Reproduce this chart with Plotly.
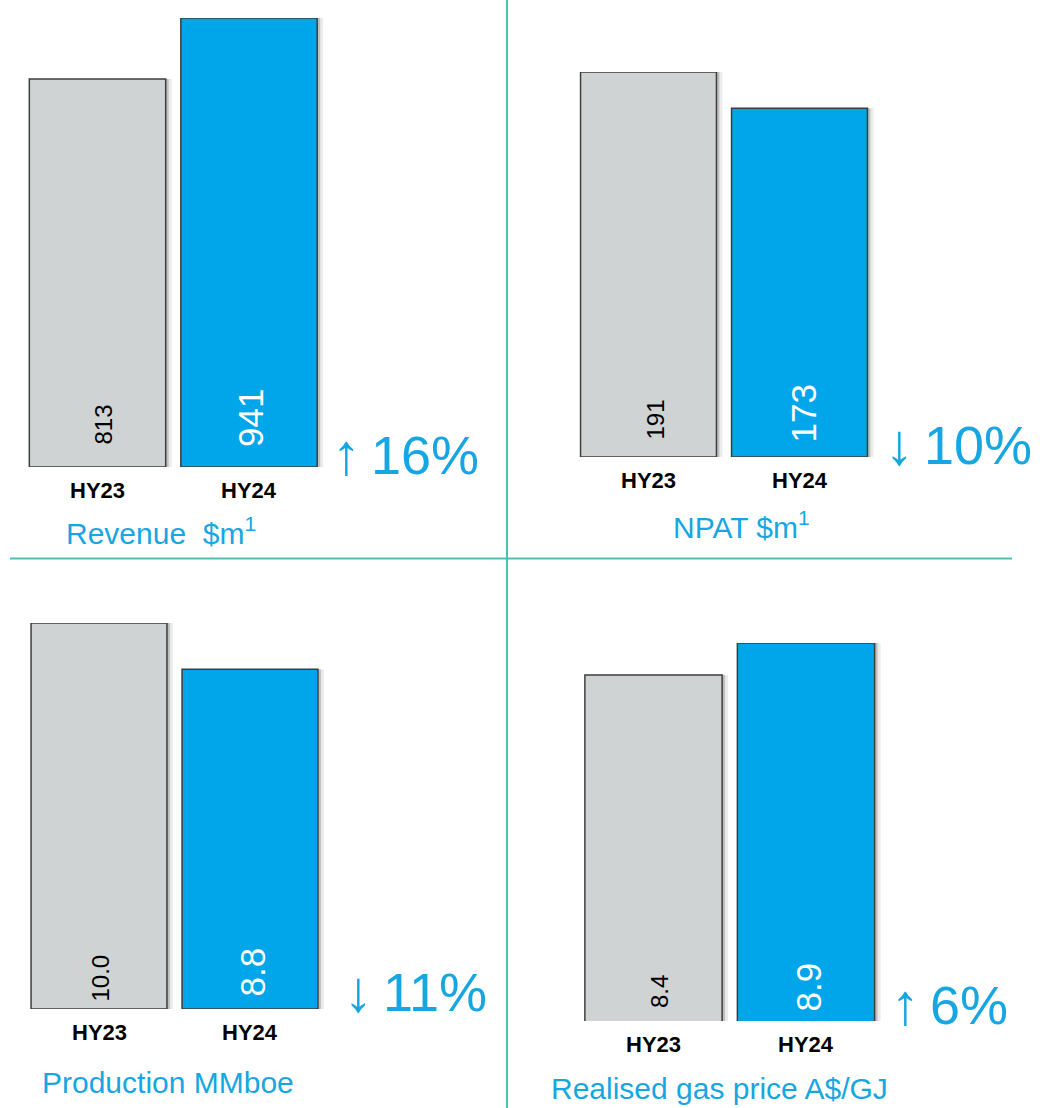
import plotly.graph_objects as go

W, H = 1054, 1108

# ---------------- data ----------------
categories = ["HY23", "HY24"]
revenue = [813, 941]
npat = [191, 173]
production = [10.0, 8.8]
gas_price = [8.4, 8.9]
value_labels = [["813", "941"], ["191", "173"], ["10.0", "8.8"], ["8.4", "8.9"]]
titles = ["Revenue\u00a0 $m<sup>1</sup>", "NPAT $m<sup>1</sup>",
          "Production MMboe", "Realised gas price A$/GJ"]
change_dir = ["up", "down", "down", "up"]
change_pct = [16, 10, 11, 6]
series = [revenue, npat, production, gas_price]

# ---------------- styles / layout ----------------
FONT = "Liberation Sans, Arial, sans-serif"
GREY = "#D0D3D4"
BLUE = "#00A6E9"
TEXT_BLUE = "#16A6E1"
OUTLINE = "#3d3d3d"
DIVIDER = "#4DBFB3"

# pixel layout of each panel: x-domain (px), y bottom/top (px), axis range
panels = [
    dict(x0=21.75, x1=324.75, yb=467, yt=18, rng=[0, 941],
         title=dict(x=64, y=531, anchor="left"),
         chg=dict(x=330, y=453),
         vshift=[20, 18], xs=[5, 1]),
    dict(x0=573, x1=875, yb=457, yt=72, rng=[0, 191],
         title=dict(x=741, y=525, anchor="center"),
         chg=dict(x=883, y=444),
         vshift=[15, 12], xs=[6, 3]),
    dict(x0=23.5, x1=325.5, yb=1009, yt=623, rng=[0, 10],
         title=dict(x=40, y=1082, anchor="left"),
         chg=dict(x=342, y=990),
         vshift=[5, 10], xs=[1, 2]),
    dict(x0=577.25, x1=882.25, yb=1021, yt=643, rng=[3.0, 8.9],
         title=dict(x=549, y=1088, anchor="left"),
         chg=dict(x=889, y=1003),
         vshift=[11, 7], xs=[6, 2]),
]


def px_x(v):
    return v / W


def px_y(v):
    return 1 - v / H


fig = go.Figure()
layout = dict(
    width=W, height=H, margin=dict(l=0, r=0, t=0, b=0),
    paper_bgcolor="white", plot_bgcolor="rgba(0,0,0,0)",
    showlegend=False, barmode="overlay",
)
annotations = []
BW = 0.9
for i, (p, vals) in enumerate(zip(panels, series)):
    n = "" if i == 0 else str(i + 1)
    xa, ya = "x" + n, "y" + n
    spacing_px = (p["x1"] - p["x0"]) / 2.0
    # soft drop shadow (two layers)
    for sh, op in [(6, 0.08), (3, 0.18)]:
        fig.add_trace(go.Bar(
            x=[0, 1], y=vals, width=BW, offset=-BW / 2 + sh / spacing_px,
            marker=dict(color=f"rgba(0,0,0,{op})", line=dict(width=0)),
            xaxis=xa, yaxis=ya, hoverinfo="skip"))
    fig.add_trace(go.Bar(
        x=[0, 1], y=vals, width=BW,
        marker=dict(color=[GREY, BLUE], line=dict(color=OUTLINE, width=1.5)),
        xaxis=xa, yaxis=ya, hoverinfo="skip"))

    layout["xaxis" + n] = dict(domain=[px_x(p["x0"]), px_x(p["x1"])], range=[-0.5, 1.5],
                               anchor=ya, visible=False, fixedrange=True)
    layout["yaxis" + n] = dict(domain=[px_y(p["yb"]), px_y(p["yt"])], range=p["rng"],
                               anchor=xa, visible=False, fixedrange=True)

    for j, cat in enumerate(categories):
        # category label
        annotations.append(dict(
            x=j, xref=xa, y=0, yref=ya + " domain", yanchor="middle", yshift=-23,
            text=f"<b>{cat}</b>", showarrow=False,
            font=dict(family=FONT, size=22, color="black")))
        # value label (rotated, inside bar at base)
        annotations.append(dict(
            x=j, xref=xa, y=0, yref=ya + " domain", yanchor="bottom",
            yshift=p["vshift"][j], xshift=p["xs"][j], textangle=-90,
            text=value_labels[i][j], showarrow=False,
            font=dict(family=FONT, size=24 if j == 0 else 35,
                      color="black" if j == 0 else "white")))

    # title
    annotations.append(dict(
        x=px_x(p["title"]["x"]), xref="paper", y=px_y(p["title"]["y"]), yref="paper",
        xanchor=p["title"]["anchor"], yanchor="middle", text=titles[i], showarrow=False,
        font=dict(family=FONT, size=30, color=TEXT_BLUE)))

    # change indicator
    arrow = "\u2191" if change_dir[i] == "up" else "\u2193"
    annotations.append(dict(
        x=px_x(p["chg"]["x"]), xref="paper", y=px_y(p["chg"]["y"]), yref="paper",
        xanchor="left", yanchor="middle",
        text=(f"<span style='font-size:58px'>{arrow}</span>"
              f"<span style='font-size:36px'> </span>{change_pct[i]}%"),
        showarrow=False, font=dict(family=FONT, size=54, color=TEXT_BLUE)))

layout["annotations"] = annotations
layout["shapes"] = [
    dict(type="line", xref="paper", yref="paper", x0=px_x(507), x1=px_x(507),
         y0=0, y1=1, line=dict(color=DIVIDER, width=2)),
    dict(type="line", xref="paper", yref="paper", x0=px_x(10), x1=px_x(1012),
         y0=px_y(558.5), y1=px_y(558.5), line=dict(color=DIVIDER, width=2)),
]
fig.update_layout(**layout)
fig.write_html("out.html", config={"displayModeBar": False},
               post_script="document.body.style.margin='0';document.body.style.overflow='hidden';")
